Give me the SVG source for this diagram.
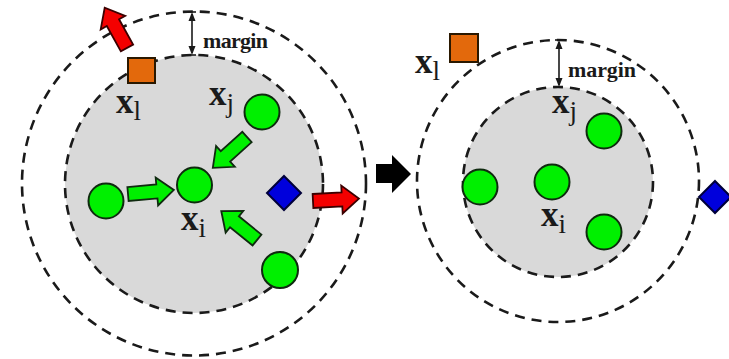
<svg xmlns="http://www.w3.org/2000/svg" width="729" height="359" viewBox="0 0 729 359">
<defs>
<style>
.dash{fill:none;stroke:#1a1a1a;stroke-width:2.6;stroke-dasharray:10 7}
.inner{fill:#d9d9d9;stroke:#1a1a1a;stroke-width:2.6;stroke-dasharray:10 7}
.pt{fill:#00f000;stroke:#0f2a0f;stroke-width:2}
.sq{fill:#e3690c;stroke:#2a1800;stroke-width:2}
.dia{fill:#0000dc;stroke:#00003a;stroke-width:2}
.garr{fill:#00f000;stroke:#0f2a0f;stroke-width:1.8;stroke-linejoin:miter}
.rarr{fill:#f40000;stroke:#3a0000;stroke-width:1.8;stroke-linejoin:miter}
.lbl{font-family:"Liberation Serif","Times New Roman",serif;font-weight:bold;font-size:35px;fill:#1a1a1a}
.sub{font-weight:normal;font-size:27px}
.mg{font-family:"Liberation Serif","Times New Roman",serif;font-weight:bold;font-size:22px;fill:#1a1a1a}
.mline{stroke:#1a1a1a;stroke-width:1.6;fill:none}
</style>
<path id="blk" d="M0,-7 H29 V-14 L46,0 L29,14 V7 H0 Z"/>
</defs>

<g id="left-region">
<circle class="dash" cx="194" cy="183.5" r="172"/>
<circle class="inner" cx="194" cy="184" r="129"/>
</g>
<g id="right-region">
<circle class="dash" cx="558" cy="181" r="141"/>
<circle class="inner" cx="558" cy="182" r="95"/>
</g>

<g id="connectors">
<use href="#blk" class="rarr" transform="translate(127,48) rotate(-119)"/>
<use href="#blk" class="rarr" transform="translate(313,201) rotate(-3)"/>
<use href="#blk" class="garr" transform="translate(128,194) rotate(-5)"/>
<use href="#blk" class="garr" transform="translate(247,137) rotate(138)"/>
<use href="#blk" class="garr" transform="translate(257,240) rotate(219)"/>
<path d="M376,164 H392 V155 L411,174 L392,193 V183 H376 Z" fill="#000"/>
</g>

<g id="margin-left">
<line class="mline" x1="192" y1="14" x2="192" y2="53"/>
<line class="mline" x1="188" y1="12" x2="196" y2="12"/>
<line class="mline" x1="186" y1="55" x2="196" y2="55"/>
<polygon points="192,12 188.5,21 195.5,21" fill="#1a1a1a"/>
<polygon points="192,55 188.5,46 195.5,46" fill="#1a1a1a"/>
<text class="mg" x="203" y="48" textLength="65">margin</text>
</g>
<g id="margin-right">
<line class="mline" x1="559" y1="42" x2="559" y2="85"/>
<line class="mline" x1="555" y1="40" x2="563" y2="40"/>
<line class="mline" x1="553" y1="87" x2="563" y2="87"/>
<polygon points="559,40 555.5,49 562.5,49" fill="#1a1a1a"/>
<polygon points="559,87 555.5,78 562.5,78" fill="#1a1a1a"/>
<text class="mg" x="568" y="77" textLength="68">margin</text>
</g>

<g id="L-xl">
<rect class="sq" x="128" y="58" width="27" height="25"/>
<text class="lbl" x="116" y="113">x<tspan class="sub" dy="7">l</tspan></text>
</g>
<g id="L-xj">
<circle class="pt" cx="262" cy="112" r="17.5"/>
<text class="lbl" x="209" y="105">x<tspan class="sub" dy="7">j</tspan></text>
</g>
<g id="L-xi">
<circle class="pt" cx="194.5" cy="185" r="17.5"/>
<text class="lbl" x="181" y="230">x<tspan class="sub" dy="7">i</tspan></text>
</g>
<g id="L-p1"><circle class="pt" cx="106" cy="201" r="17.5"/></g>
<g id="L-p2"><circle class="pt" cx="280" cy="270" r="18"/></g>
<g id="L-neg"><polygon class="dia" points="284,176 301,193 284,210 267,193"/></g>

<g id="R-xl">
<rect class="sq" x="450" y="34" width="28" height="28"/>
<text class="lbl" x="415" y="73">x<tspan class="sub" dy="7">l</tspan></text>
</g>
<g id="R-xj">
<circle class="pt" cx="604" cy="131" r="17.5"/>
<text class="lbl" x="552" y="113">x<tspan class="sub" dy="7">j</tspan></text>
</g>
<g id="R-xi">
<circle class="pt" cx="552" cy="182" r="17.5"/>
<text class="lbl" x="541" y="226">x<tspan class="sub" dy="7">i</tspan></text>
</g>
<g id="R-p1"><circle class="pt" cx="480" cy="187" r="17.5"/></g>
<g id="R-p2"><circle class="pt" cx="604" cy="232" r="17.5"/></g>
<g id="R-neg"><polygon class="dia" points="715,181 731,197 715,213 699,197"/></g>
</svg>
